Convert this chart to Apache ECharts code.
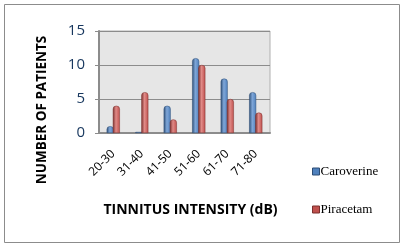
<!DOCTYPE html>
<html>
<head>
<meta charset="utf-8">
<script src="https://cdn.jsdelivr.net/npm/echarts@6/dist/echarts.min.js"></script>
<style>
  html, body { margin: 0; padding: 0; background: #fff; }
  #chart { width: 405px; height: 247px; }
</style>
</head>
<body>
<div id="chart"></div>
<script>
const categories = ["20-30", "31-40", "41-50", "51-60", "61-70", "71-80"];
const caroverine = [1, 0.15, 4, 11, 8, 6];
const piracetam = [4, 6, 2, 10, 5, 3];
const yTicks = [0, 5, 10, 15];

function cyl(dark, mid, light) {
  return new echarts.graphic.LinearGradient(0, 0, 1, 0, [
    { offset: 0, color: dark },
    { offset: 0.45, color: light },
    { offset: 1, color: mid }
  ]);
}

const chart = echarts.init(document.getElementById("chart"), null, { renderer: "canvas" });

chart.setOption({
  animation: false,
  backgroundColor: "#fff",
  graphic: [
    {
      type: "rect",
      shape: { x: 4.5, y: 4.5, width: 395, height: 238 },
      style: { fill: "none", stroke: "#8c8c8c", lineWidth: 1 },
      z: -10
    }
  ],
  grid: {
    left: 99,
    right: 135,
    top: 31,
    bottom: 114,
    show: true,
    backgroundColor: "#e6e6e6",
    borderColor: "#b0b0b0",
    borderWidth: 1
  },
  legend: {
    orient: "vertical",
    left: 307,
    top: 160,
    itemWidth: 7,
    itemHeight: 7,
    itemGap: 25,
    icon: "rect",
    data: [
      { name: "Caroverine", itemStyle: { color: "#4f81bd", borderColor: "#2c4d75", borderWidth: 1 } },
      { name: "Piracetam", itemStyle: { color: "#c0504d", borderColor: "#7a2e2c", borderWidth: 1 } }
    ],
    textStyle: { fontFamily: "Liberation Serif", fontSize: 13, color: "#000", padding: [0, 0, 0, -4] }
  },
  xAxis: {
    type: "category",
    data: categories,
    name: "TINNITUS INTENSITY (dB)",
    nameLocation: "middle",
    nameGap: 70,
    nameTextStyle: { fontFamily: "Open Sans", fontWeight: "bold", fontSize: 14, color: "#000", padding: [0, 0, 0, 12] },
    axisLine: { lineStyle: { color: "#8c8c8c", width: 2 } },
    axisTick: { show: false },
    axisLabel: { rotate: 45, margin: 19, fontFamily: "Open Sans", fontSize: 12, color: "#000" }
  },
  yAxis: {
    type: "value",
    min: 0,
    max: 15,
    interval: 5,
    name: "NUMBER OF PATIENTS",
    nameLocation: "middle",
    nameGap: 50,
    nameTextStyle: { fontFamily: "Open Sans", fontWeight: "bold", fontSize: 13.5, color: "#000", padding: [0, 56, 0, 0] },
    axisLine: { show: true, lineStyle: { color: "#8c8c8c", width: 2 } },
    axisTick: { show: true, length: 4, lineStyle: { color: "#8c8c8c" } },
    axisLabel: {
      margin: 14,
      fontFamily: "Open Sans",
      fontSize: 15,
      color: "#17375e",
      formatter: function (v) { return yTicks.indexOf(v) >= 0 ? String(v) : ""; }
    },
    splitLine: { show: true, lineStyle: { color: "#8c8c8c", width: 1 } }
  },
  series: [
    {
      name: "Caroverine",
      type: "bar",
      data: caroverine,
      barWidth: 7,
      barGap: "-12%",
      itemStyle: {
        color: cyl("#2c4d75", "#4f81bd", "#7fa6d8"),
        borderRadius: [3, 3, 0, 0],
        borderColor: "#2c4d75",
        borderWidth: 0.5
      }
    },
    {
      name: "Piracetam",
      type: "bar",
      data: piracetam,
      barWidth: 7,
      itemStyle: {
        color: cyl("#7a2e2c", "#c0504d", "#e08a87"),
        borderRadius: [3, 3, 0, 0],
        borderColor: "#7a2e2c",
        borderWidth: 0.5
      }
    }
  ]
});
</script>
</body>
</html>
